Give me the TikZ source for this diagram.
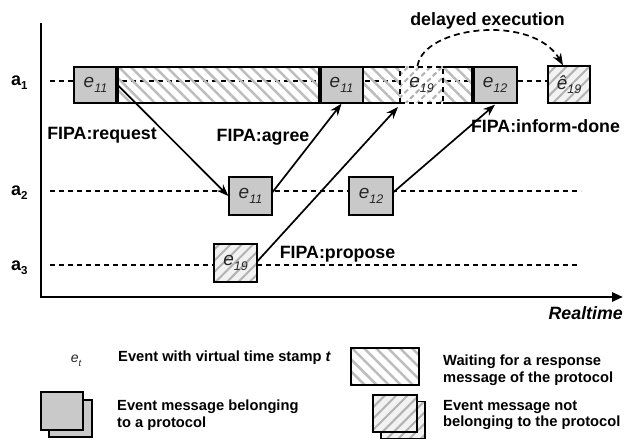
\documentclass[tikz,border=0pt]{standalone}
\usepackage{fontspec}
\setmainfont{Liberation Sans}
\usetikzlibrary{patterns.meta,arrows.meta}
\newcommand{\evlab}[2][e]{{\fontsize{19}{19}\selectfont\itshape #1\raisebox{-4.5pt}{\fontsize{12.5}{13}\selectfont #2}}}
\newcommand{\aglab}[1]{{\fontsize{18}{18}\selectfont\bfseries a\raisebox{-4pt}{\fontsize{11.5}{12}\selectfont #1}}}
\begin{document}
\begin{tikzpicture}[x=1pt,y=-1pt,
  lab/.style={font=\fontsize{17.8}{20}\selectfont\bfseries, inner sep=0pt},
  leg/.style={font=\fontsize{14.7}{16.5}\selectfont\bfseries, align=left, inner sep=0pt, anchor=west},
  life/.style={dash pattern=on 5pt off 4pt, line width=1.2pt},
  evbase/.style={draw, line width=1.3pt, inner sep=0pt, text=black!85, minimum width=43pt, minimum height=36pt},
  pev/.style={evbase, fill=black!21},
  nev/.style={evbase, preaction={fill=black!5}, pattern={Lines[angle=45,distance=8pt,line width=2pt]}, pattern color=black!30},
  waitfill/.style={pattern={Lines[angle=-45,distance=8.5pt,line width=2.5pt]}, pattern color=black!26},
  msg/.style={line width=1.7pt, -{Stealth[length=12pt,width=9pt]}},
  thick bar/.style={line width=3.5pt},
]
\useasboundingbox (0,0) rectangle (624,441);

% axes
\coordinate (ytop) at (41,23);
\coordinate (orig) at (41,297);
\coordinate (xend) at (623,297);
\draw[line width=2.7pt, -{Triangle[length=11pt,width=9pt]}] (ytop) -- (orig) -- (xend);
\node[lab, font=\fontsize{17.8}{20}\selectfont\bfseries\itshape, anchor=east] (rt) at (623,313) {Realtime};

% agent labels
\node[anchor=base west, inner sep=0pt] (a1) at (11,86) {\aglab{1}};
\node[anchor=base west, inner sep=0pt] (a2) at (11,196) {\aglab{2}};
\node[anchor=base west, inner sep=0pt] (a3) at (11,270) {\aglab{3}};

% lifelines
\coordinate (l1s) at (50,81);  \coordinate (l1e) at (548,81);
\coordinate (l2s) at (50,191); \coordinate (l2e) at (581,191);
\coordinate (l3s) at (50,265); \coordinate (l3e) at (577,265);
\draw[life] (l1s) -- (l1e);
\draw[life] (l2s) -- (l2e);
\draw[life] (l3s) -- (l3e);

% waiting bar
\fill[waitfill] (117,67) rectangle (473,103);
\draw[line width=1.3pt] (400,67) -- (74,67) -- (74,103) -- (400,103);
\draw[line width=1.3pt] (443,67) -- (517,67) -- (517,103) -- (443,103);

% events on a1
\node[pev] (e11a) at (95.5,85) {\evlab{11}};
\node[pev] (e11b) at (341.5,85) {\evlab{11}};
\node[nev, dashed, dash pattern=on 5pt off 4pt, preaction={fill=white}] (e19t) at (421.5,85) {\evlab{19}};
\node[pev, minimum width=44pt] (e12t) at (495,85) {\evlab{12}};
\node[nev, minimum width=42pt, minimum height=37pt] (eh) at (569,84.5) {\evlab[ê]{19}};
\draw[thick bar] (117,67) -- (117,103);
\draw[thick bar] (320,67) -- (320,103);
\draw[thick bar] (473,67) -- (473,103);

% events on a2, a3
\node[pev, minimum height=38pt] (e11c) at (250.5,196) {\evlab{11}};
\node[pev, minimum width=44pt, minimum height=38pt] (e12b) at (371,196) {\evlab{12}};
\node[nev, minimum height=38pt] (e19a) at (235.5,263) {\evlab{19}};

% messages
\draw[msg] (e11a.east) -- (e11c.west);
\draw[msg] ([yshift=4pt]e11c.east) -- (e11b.south);
\draw[msg] ([yshift=2pt]e19a.east) -- ([xshift=-1pt,yshift=-3pt]e19t.south west);
\draw[msg] ([yshift=4pt]e12b.east) -- ([yshift=-1pt]e12t.south);
\draw[line width=1.7pt, dash pattern=on 6pt off 4pt, -{Stealth[length=12pt,width=9pt]}]
  ([xshift=-4pt]e19t.north) .. controls +(6,-40) and +(-30,-52) .. ([xshift=-6pt]eh.north);

% labels
\node[lab] (lreq) at (102,135) {FIPA:request};
\node[lab] (lagr) at (263,137) {FIPA:agree};
\node[lab] (linf) at (545.5,126) {FIPA:inform-done};
\node[lab] (lpro) at (337.5,254) {FIPA:propose};
\node[lab] (ldel) at (487.5,21) {delayed execution};

% legend
\node[inner sep=0pt, text=black!85] (let) at (76,361) {{\fontsize{14}{14}\selectfont\itshape e\raisebox{-3.5pt}{\fontsize{9.5}{10}\selectfont t}}};
\node[leg] (tlet) at (118,358) {Event with virtual time stamp \textit{t}};
\node[draw, line width=1.3pt, waitfill, minimum width=68pt, minimum height=37pt, inner sep=0pt] (lw) at (385,366.5) {};
\node[leg] (tlw) at (443,370) {Waiting for a response\\message of the protocol};
\node[pev, minimum width=43pt, minimum height=37pt] (lpb) at (70.5,418.5) {};
\node[pev, minimum width=42pt, minimum height=38pt] (lpf) at (62,411) {};
\node[leg] (tlp) at (117,415) {Event message belonging\\to a protocol};
\node[nev, minimum width=44pt, minimum height=37pt] (lnb) at (403,420) {};
\node[nev, minimum width=44pt, minimum height=37pt] (lnf) at (395,413.5) {};
\node[leg] (tln) at (443,415) {Event message not\\belonging to the protocol};
\end{tikzpicture}
\end{document}
